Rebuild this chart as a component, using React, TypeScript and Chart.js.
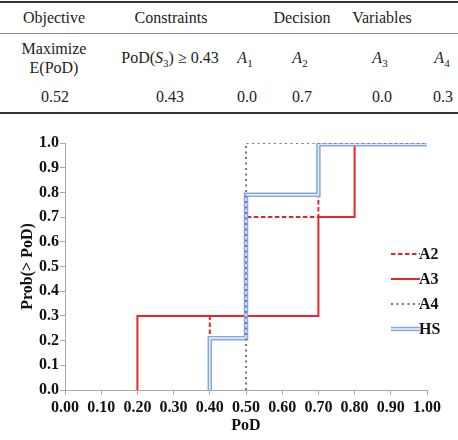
import React, { useEffect, useRef } from "react";
import { Chart, registerables } from "chart.js";

Chart.register(...registerables);

// ---- data ----
const xTickValues = [0, 0.1, 0.2, 0.3, 0.4, 0.5, 0.6, 0.7, 0.8, 0.9, 1.0];
const yTickValues = [0, 0.1, 0.2, 0.3, 0.4, 0.5, 0.6, 0.7, 0.8, 0.9, 1.0];

const seriesLabels = ["A2", "A3", "A4", "HS"];

const a2PoD = [0.4, 0.4, 0.5, 0.7, 1.0];
const a2Prob = [0, 0.3, 0.7, 1.0, 1.0];

const a3PoD = [0.2, 0.2, 0.7, 0.8, 1.0];
const a3Prob = [0, 0.3, 0.7, 1.0, 1.0];

const a4PoD = [0.5, 0.5, 1.0];
const a4Prob = [0, 1.0, 1.0];

const hsPoD = [0.4, 0.4, 0.5, 0.7, 1.0];
const hsProb = [0, 0.21, 0.79, 0.995, 0.995];

const tableHeaders = ["Objective", "Constraints", "Decision", "Variables"];
const tableValues = ["0.52", "0.43", "0.0", "0.7", "0.0", "0.3"];

const toPoints = (xs: number[], ys: number[]) => xs.map((x, i) => ({ x, y: ys[i] }));

const SERIF = '"Liberation Serif", "Times New Roman", Tinos, Times, "DejaVu Serif", "Noto Serif", serif';

const legendPlugin = {
  id: "insideLegend",
  afterDatasetsDraw(chart: any) {
    const { ctx, chartArea } = chart;
    const x0 = chartArea.left + 326;
    const x1 = chartArea.left + 355;
    function line(y: number) {
      ctx.beginPath();
      ctx.moveTo(x0, y);
      ctx.lineTo(x1, y);
      ctx.stroke();
    }
    const entries = [
      { label: seriesLabels[0], draw: (y: number) => { ctx.strokeStyle = "#e3262b"; ctx.lineWidth = 2; ctx.setLineDash([4.5, 2.5]); line(y); } },
      { label: seriesLabels[1], draw: (y: number) => { ctx.strokeStyle = "#ee2528"; ctx.lineWidth = 2; ctx.setLineDash([]); line(y); } },
      { label: seriesLabels[2], draw: (y: number) => { ctx.strokeStyle = "#6e6fb4"; ctx.lineWidth = 2; ctx.setLineDash([2, 3.5]); line(y); } },
      { label: seriesLabels[3], draw: (y: number) => { ctx.setLineDash([]); ctx.strokeStyle = "#86a8da"; ctx.lineWidth = 4.5; line(y); ctx.strokeStyle = "#dfe8f6"; ctx.lineWidth = 1.8; line(y); } },
    ];
    ctx.save();
    ctx.font = `bold 16px ${SERIF}`;
    ctx.fillStyle = "#111";
    ctx.textBaseline = "middle";
    ctx.textAlign = "left";
    entries.forEach((e, i) => {
      const y = chartArea.top + 111 + i * 25;
      ctx.save();
      e.draw(y);
      ctx.restore();
      ctx.fillText(e.label, x1 - 1, y + 1);
    });
    ctx.restore();
  },
};

function ChartCanvas() {
  const ref = useRef<HTMLCanvasElement | null>(null);
  useEffect(() => {
    if (!ref.current) return;
    const tickFont = { family: SERIF, size: 16, weight: "bold" as const };
    const chart = new Chart(ref.current, {
      type: "line",
      data: {
        datasets: [
          {
            label: "A4",
            data: toPoints(a4PoD, a4Prob),
            borderColor: "#6e6fb4",
            borderWidth: 2,
            borderDash: [2, 3.5],
            stepped: true,
            pointRadius: 0,
            fill: false,
            order: 0,
          },
          {
            label: "HS",
            data: toPoints(hsPoD, hsProb),
            borderColor: "#dfe8f6",
            borderWidth: 1.6,
            stepped: true,
            pointRadius: 0,
            fill: false,
            order: 1,
          },
          {
            label: "HS outline",
            data: toPoints(hsPoD, hsProb),
            borderColor: "#86a8da",
            borderWidth: 4.5,
            stepped: true,
            pointRadius: 0,
            fill: false,
            order: 2,
          },
          {
            label: "A2",
            data: toPoints(a2PoD, a2Prob),
            borderColor: "#e3262b",
            borderWidth: 2,
            borderDash: [4.5, 2.5],
            stepped: true,
            pointRadius: 0,
            fill: false,
            order: 3,
          },
          {
            label: "A3",
            data: toPoints(a3PoD, a3Prob),
            borderColor: "#ee2528",
            borderWidth: 2,
            stepped: true,
            pointRadius: 0,
            fill: false,
            order: 4,
          },
        ],
      },
      options: {
        animation: false,
        responsive: false,
        devicePixelRatio: 1,
        layout: { padding: { left: 0, right: 31, top: 23, bottom: 0 } },
        plugins: { legend: { display: false }, tooltip: { enabled: false } },
        scales: {
          x: {
            type: "linear",
            min: 0,
            max: 1,
            afterFit: (s: any) => { s.height = 50; },
            afterBuildTicks: (s: any) => { s.ticks = xTickValues.map((v) => ({ value: v })); },
            ticks: {
              font: tickFont,
              color: "#111",
              padding: 3,
              maxRotation: 0,
              autoSkip: false,
              callback: (v: any) => Number(v).toFixed(2),
            },
            grid: { display: true, drawOnChartArea: false, drawTicks: true, tickLength: 5, color: "#a8a8a8" },
            border: { display: true, color: "#a8a8a8", width: 1 },
            title: { display: true, text: "PoD", font: tickFont, color: "#111", padding: { top: 0, bottom: 5 } },
          },
          y: {
            type: "linear",
            min: 0,
            max: 1,
            afterFit: (s: any) => { s.width = 65; },
            afterBuildTicks: (s: any) => { s.ticks = yTickValues.map((v) => ({ value: v })); },
            ticks: {
              font: tickFont,
              color: "#111",
              padding: 1,
              autoSkip: false,
              callback: (v: any) => Number(v).toFixed(1),
            },
            grid: { display: true, drawOnChartArea: false, drawTicks: true, tickLength: 5, color: "#a8a8a8" },
            border: { display: true, color: "#a8a8a8", width: 1 },
            title: { display: true, text: "Prob(> PoD)", font: tickFont, color: "#111", padding: { top: 18, bottom: 0 } },
          },
        },
      },
      plugins: [legendPlugin],
    } as any);
    return () => chart.destroy();
  }, []);
  return (
    <canvas
      ref={ref}
      width={458}
      height={320}
      style={{ position: "absolute", left: 0, top: 120, width: 458, height: 320 }}
    />
  );
}

const txt = (cx: number, cy: number, content: React.ReactNode, key: string) => (
  <div
    key={key}
    style={{
      position: "absolute",
      left: cx,
      top: cy - 9,
      height: 18,
      lineHeight: "18px",
      transform: "translateX(-50%)",
      whiteSpace: "nowrap",
    }}
  >
    {content}
  </div>
);

const subA = (n: number) => (
  <span>
    <i>A</i>
    <span style={{ fontSize: 11, position: "relative", top: 4 }}>{n}</span>
  </span>
);

export default function App() {
  return (
    <div
      style={{
        position: "absolute",
        left: 0,
        top: 0,
        width: 458,
        height: 440,
        background: "#fff",
        fontFamily: SERIF,
        fontSize: 16,
        color: "#222",
        overflow: "hidden",
      }}
    >
      <div style={{ position: "absolute", left: 0, top: 1, width: 458, height: 2, background: "#333" }} />
      <div style={{ position: "absolute", left: 0, top: 33, width: 458, height: 1, background: "#8a8a8a" }} />
      <div style={{ position: "absolute", left: 0, top: 112, width: 458, height: 2, background: "#333" }} />
      {txt(54, 18, tableHeaders[0], "h0")}
      {txt(171, 18, tableHeaders[1], "h1")}
      {txt(302, 18, tableHeaders[2], "h2")}
      {txt(382, 18, tableHeaders[3], "h3")}
      {txt(54, 49, "Maximize", "m1")}
      {txt(54, 68, "E(PoD)", "m2")}
      {txt(170, 58, (
        <span>
          PoD(<i>S</i><span style={{ fontSize: 11, position: "relative", top: 4 }}>3</span>) ≥ 0.43
        </span>
      ), "c1")}
      {txt(245, 58, subA(1), "a1")}
      {txt(300, 58, subA(2), "a2")}
      {txt(380, 58, subA(3), "a3")}
      {txt(442, 58, subA(4), "a4")}
      {txt(55, 97, tableValues[0], "v0")}
      {txt(170, 97, tableValues[1], "v1")}
      {txt(247, 97, tableValues[2], "v2")}
      {txt(302, 97, tableValues[3], "v3")}
      {txt(382, 97, tableValues[4], "v4")}
      {txt(443, 97, tableValues[5], "v5")}
      <ChartCanvas />
    </div>
  );
}
